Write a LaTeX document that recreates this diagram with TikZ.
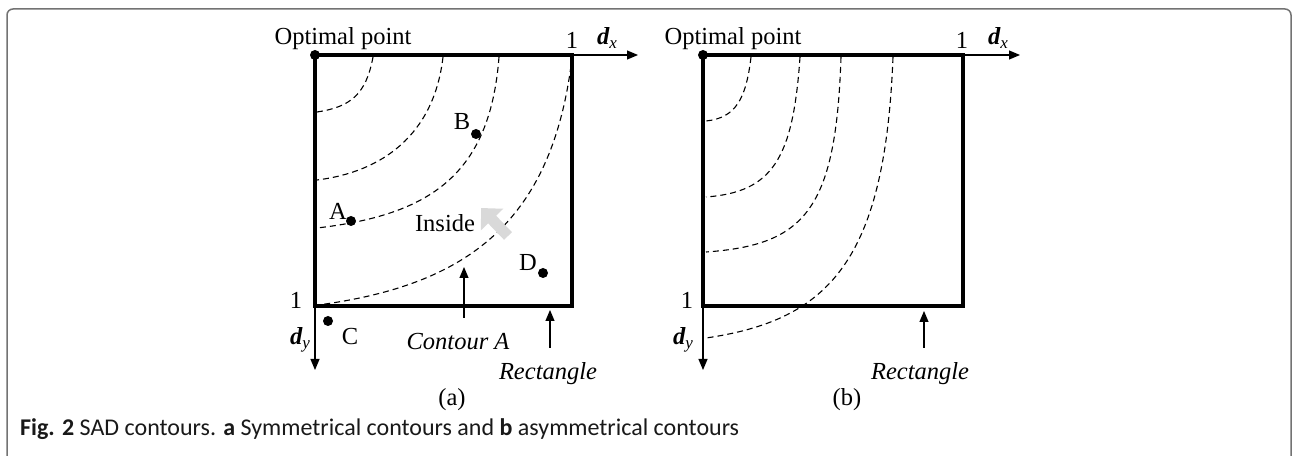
\documentclass[tikz,border=0pt]{standalone}
\usepackage{fontspec}
\setmainfont{Liberation Serif}
\newfontfamily\capfont{Carlito}
\usetikzlibrary{arrows.meta}
\tikzset{
  rectline/.style={line width=3.5bp, line join=miter},
  axisline/.style={line width=1.1bp, -{Triangle[length=11bp,width=9bp]}},
  pointer/.style={line width=1.1bp, -{Triangle[length=11bp,width=9bp]}},
  contour/.style={dash pattern=on 6bp off 4bp, line width=1.1bp},
  dot/.style={circle, fill=black, inner sep=0pt, minimum size=10bp},
  lbl/.style={font=\fontsize{24.5bp}{27bp}\selectfont, inner sep=0pt},
  ilbl/.style={font=\fontsize{24.5bp}{27bp}\selectfont\itshape, inner sep=0pt},
}
\newcommand{\dvar}[1]{{\bfseries\itshape d}\raisebox{-0.4ex}{\fontsize{17bp}{18bp}\selectfont\itshape #1}}
\begin{document}
\begin{tikzpicture}[x=1bp,y=-1bp]
\useasboundingbox (0,0) rectangle (1294,456);
\fill[white] (0,0) rectangle (1294,456);
% frame
\draw[black!55, line width=1.5bp, rounded corners=6bp] (7,470) -- (7,9) -- (1291,9) -- (1291,470);

% ---------- panel (a) ----------
\coordinate (aTL) at (315,55);
\coordinate (aTR) at (572,55);
\coordinate (aBR) at (572,306);
\coordinate (aBL) at (315,306);
\coordinate (aXend) at (638,55);
\coordinate (aYend) at (315,370);
\draw[contour] (373,57) .. controls (366,95) and (350,107) .. (317,112);
\draw[contour] (443,57) .. controls (434,135) and (382,172) .. (317,180);
\draw[contour] (499,57) .. controls (490,175) and (430,215) .. (317,228);
\draw[contour] (571,66) .. controls (550,220) and (470,285) .. (318,305);
\draw[rectline] (aTL) -- (aTR) -- (aBR) -- (aBL) -- cycle;
\draw[axisline] (aTR) -- (aXend);
\draw[axisline] (aBL) -- (aYend);
\node[dot] (aopt) at (aTL) {};
\node[lbl] (aoptl) at (343,39) {Optimal point};
\node[lbl] (aone) at (572,40) {1};
\node[lbl] (adx) at (607,38) {\dvar{x}};
\node[lbl] (aoney) at (296,300) {1};
\node[lbl] (ady) at (300,340) {\dvar{y}};
\node[dot] (A) at (351,221) {};
\node[lbl] (Al) at (338,211) {A};
\node[dot] (B) at (476,134) {};
\node[lbl] (Bl) at (462,122) {B};
\node[dot] (C) at (328,321) {};
\node[lbl] (Cl) at (350,337) {C};
\node[dot] (D) at (543,273) {};
\node[lbl] (Dl) at (528,263) {D};
\node[lbl] (inside) at (445,223) {Inside};
\coordinate (insT) at (508,236);
\coordinate (insH) at (481,208);
\draw[line width=11bp, black!15, -{Triangle[length=16bp,width=30bp]}] (insT) -- (insH);
\node[ilbl] (contA) at (458,342) {Contour A};
\coordinate (contAtip) at (464,267);
\coordinate (contAbase) at (464,318);
\draw[pointer] (contAbase) -- (contAtip);
\node[ilbl] (arect) at (548,374) {Rectangle};
\coordinate (arecttip) at (550,310);
\coordinate (arectbase) at (550,348);
\draw[pointer] (arectbase) -- (arecttip);
\node[lbl] (acap) at (452,400) {(a)};

% ---------- panel (b) ----------
\coordinate (bTL) at (703,55);
\coordinate (bTR) at (963,55);
\coordinate (bBR) at (963,306);
\coordinate (bBL) at (703,306);
\coordinate (bXend) at (1020,55);
\coordinate (bYend) at (703,370);
\draw[contour] (751,57) .. controls (746,100) and (735,118) .. (706,121);
\draw[contour] (800,57) .. controls (793,160) and (772,192) .. (706,197);
\draw[contour] (841,57) .. controls (836,210) and (805,245) .. (706,252);
\draw[contour] (893,57) .. controls (885,260) and (830,320) .. (706,338);
\draw[rectline] (bTL) -- (bTR) -- (bBR) -- (bBL) -- cycle;
\draw[axisline] (bTR) -- (bXend);
\draw[axisline] (bBL) -- (bYend);
\node[dot] (bopt) at (bTL) {};
\node[lbl] (boptl) at (733,39) {Optimal point};
\node[lbl] (bone) at (962,40) {1};
\node[lbl] (bdx) at (998,38) {\dvar{x}};
\node[lbl] (boney) at (687,300) {1};
\node[lbl] (bdy) at (683,340) {\dvar{y}};
\node[ilbl] (brect) at (920,374) {Rectangle};
\coordinate (brecttip) at (924,311);
\coordinate (brectbase) at (924,348);
\draw[pointer] (brectbase) -- (brecttip);
\node[lbl] (bcap) at (847,400) {(b)};

% caption
\node[anchor=west, inner sep=0pt, font=\capfont\fontsize{24bp}{28bp}\selectfont, text=black!90] (caption) at (20,429)
  {\textbf{Fig. 2} SAD contours. \textbf{a} Symmetrical contours and \textbf{b} asymmetrical contours};
\end{tikzpicture}
\end{document}
